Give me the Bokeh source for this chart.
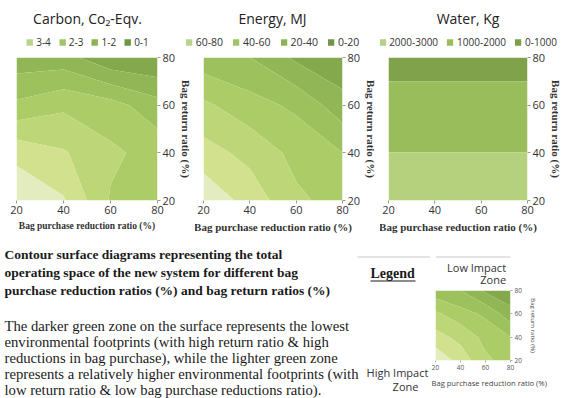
import numpy as np
from bokeh.plotting import figure
from bokeh.layouts import row, column
from bokeh.models import Range1d, Legend, LegendItem, FixedTicker
from bokeh.core.properties import value
from bokeh.embed import file_html
from bokeh.resources import INLINE

# ---------------- data ----------------
reduction_ratio = [20, 40, 60, 80]      # bag purchase reduction ratio (%) - x grid
return_ratio = [20, 40, 60, 80]         # bag return ratio (%) - y grid
tick_values = [20, 40, 60, 80]

# rows: return ratio 20, 40, 60, 80 ; columns: purchase reduction 20, 40, 60, 80
carbon = [
    [3.90, 3.55, 2.45, 2.30],
    [3.35, 3.05, 2.60, 2.30],
    [2.10, 2.40, 2.20, 1.70],
    [1.20, 1.20, 0.60, 0.50],
]
carbon_levels = [0, 0.5, 1, 1.5, 2, 2.5, 3, 3.5, 4]
carbon_legend_labels = ["3-4", "2-3", "1-2", "0-1"]

energy = [
    [78, 66, 52, 46],
    [64, 57, 47, 40],
    [52, 44, 38, 24],
    [34, 30, 18, 12],
]
energy_levels = [0, 10, 20, 30, 40, 50, 60, 70, 80]
energy_legend_labels = ["60-80", "40-60", "20-40", "0-20"]

water = [
    [2600, 2600, 2600, 2600],
    [2010, 2010, 2010, 2010],
    [1250, 1250, 1250, 1250],
    [750, 750, 750, 750],
]
water_levels = [0, 1000, 2000, 3000]
water_legend_labels = ["2000-3000", "1000-2000", "0-1000"]

x_title = "Bag purchase reduction ratio (%)"
y_title = "Bag return ratio (%)"

caption_bold = [
    "Contour surface diagrams representing the total",
    "operating space of the new system for different bag",
    "purchase reduction ratios (%) and bag return ratios (%)",
]
caption_text = [
    "The darker green zone on the surface represents the lowest",
    "environmental footprints (with high return ratio & high",
    "reductions in bag purchase), while the lighter green zone",
    "represents a relatively higher environmental footprints (with",
    "low return ratio & low bag purchase reductions ratio).",
]

# ---------------- styles ----------------
shade8 = ["#789c44", "#84a94c", "#90b655", "#9dc25d", "#abcc66", "#bdd677", "#d1e18d", "#e3ecbe"]
water3 = ["#7fa24a", "#98bd5a", "#b6d17d"]
swatch4 = ["#b9d48c", "#a0c468", "#8cb454", "#6f9644"]
swatch3 = ["#b6d18a", "#98bd5d", "#7c9e48"]

SANS = "Open Sans"
SERIF = "Liberation Serif"
HEAD_H = 50
CHART_H = 190


def canvas(width, height, x0, y0):
    """A plain figure whose frame is the whole canvas, in page-pixel coordinates."""
    c = figure(width=width, height=height, x_range=Range1d(x0, x0 + width),
               y_range=Range1d(y0 + height, y0), output_backend="svg",
               toolbar_location=None, x_axis_type=None, y_axis_type=None,
               min_border=0, outline_line_color=None, border_fill_color="white")
    c.grid.visible = False
    return c


def header(width, x0, title, labels, swatches, font_size, spacing):
    h = canvas(width, HEAD_H, x0, 0)
    h.text(x=[x0 + width / 2], y=[18], text=[title], text_font=value(SANS),
           text_font_size="14px", text_align="center", text_baseline="middle",
           text_color="#222222")
    items = []
    for lab, col in zip(labels, swatches):
        r = h.quad(left=[np.nan], right=[np.nan], top=[np.nan], bottom=[np.nan],
                   fill_color=col, line_color=None)
        items.append(LegendItem(label=lab, renderers=[r]))
    leg = Legend(items=items, orientation="horizontal", location="bottom_center",
                 glyph_width=8, glyph_height=8, label_standoff=3, spacing=spacing,
                 padding=0, margin=1, border_line_color=None, background_fill_alpha=0,
                 label_text_font=SANS, label_text_font_size=font_size,
                 label_text_color="#333333", label_height=12, label_width=0)
    h.add_layout(leg)
    return h


def chart(z, levels, palette, width, left, right, xlabel_size):
    p = figure(width=width, height=CHART_H, x_range=Range1d(20, 80),
               y_range=Range1d(20, 80), output_backend="svg", toolbar_location=None,
               y_axis_location="right", min_border_left=left, min_border_right=right,
               min_border_top=7, min_border_bottom=40, outline_line_color=None,
               border_fill_color="white")
    p.contour(reduction_ratio, return_ratio, np.array(z, dtype=float), levels,
              fill_color=palette, line_color=None)
    p.grid.visible = False
    p.xaxis.ticker = FixedTicker(ticks=tick_values)
    p.yaxis.ticker = FixedTicker(ticks=tick_values)
    p.xaxis.axis_label = x_title
    p.yaxis.axis_label = y_title
    for ax in (p.xaxis[0], p.yaxis[0]):
        ax.axis_line_color = None
        ax.major_tick_line_color = "#9a9a9a"
        ax.major_tick_out = 3
        ax.major_tick_in = 0
        ax.minor_tick_line_color = None
        ax.major_label_text_font = SANS
        ax.major_label_text_font_size = "11px"
        ax.major_label_text_color = "#333333"
        ax.axis_label_text_font = SERIF
        ax.axis_label_text_font_style = "bold"
        ax.axis_label_text_color = "#333333"
        ax.major_label_standoff = 2
    p.xaxis.axis_label_standoff = 4
    p.yaxis.axis_label_standoff = 2
    p.xaxis.axis_label_text_font_size = xlabel_size
    p.yaxis.axis_label_text_font_size = "11px"
    return p


h1 = header(174, 0, "Carbon, Co\u2082-Eqv.", carbon_legend_labels, swatch4, "10px", 7)
h2 = header(196, 174, "Energy, MJ", energy_legend_labels, swatch4, "10.5px", 9)
h3 = header(195, 370, "Water, Kg", water_legend_labels, swatch3, "10px", 8)

f1 = chart(carbon, carbon_levels, shade8, 195, 16, 37, "9.5px")
f2 = chart(energy, energy_levels, shade8, 185, 8, 35, "11px")
f3 = chart(water, water_levels, water3, 185, 8, 32, "11px")

# ---------------- bottom: captions ----------------
t = canvas(430, 158, 0, 240)
for i, line in enumerate(caption_bold):
    t.text(x=[4], y=[254 + 18 * i], text=[line], text_font=value(SERIF),
           text_font_style="bold", text_font_size="13.5px", text_baseline="middle",
           text_color="#1a1a1a")
for i, line in enumerate(caption_text):
    t.text(x=[4], y=[325 + 16 * i], text=[line], text_font=value(SERIF),
           text_font_size="14.7px", text_baseline="middle", text_color="#1a1a1a")
t.segment(x0=[357], y0=[256.5], x1=[430], y1=[256.5], line_color="#c8c8c8", line_width=1)
t.text(x=[370], y=[273], text=["Legend"], text_font=value(SERIF), text_font_style="bold",
       text_font_size="14px", text_baseline="middle", text_color="#1a1a1a")
t.segment(x0=[370], y0=[280.5], x1=[415], y1=[280.5], line_color="#1a1a1a", line_width=1)
t.text(x=[397], y=[372], text=["High Impact"], text_font=value(SANS), text_font_size="11px",
       text_align="center", text_baseline="middle", text_color="#333333")
t.text(x=[405], y=[386], text=["Zone"], text_font=value(SANS), text_font_size="11px",
       text_align="center", text_baseline="middle", text_color="#333333")

# ---------------- bottom right: legend chart ----------------
lh = canvas(135, 46, 430, 240)
lh.segment(x0=[430], y0=[256.5], x1=[565], y1=[256.5], line_color="#c8c8c8", line_width=1)
lh.text(x=[557], y=[267], text=["Low Impact"], text_font=value(SANS), text_font_size="11px",
        text_align="right", text_baseline="middle", text_color="#333333")
lh.text(x=[557], y=[279], text=["Zone"], text_font=value(SANS), text_font_size="11px",
        text_align="right", text_baseline="middle", text_color="#333333")

lc = figure(width=135, height=112, x_range=Range1d(20, 80), y_range=Range1d(20, 80),
            output_backend="svg", toolbar_location=None, y_axis_location="right",
            min_border_left=5, min_border_right=55, min_border_top=4, min_border_bottom=38,
            outline_line_color=None, border_fill_color="white",
            title=x_title, title_location="below")
lc.contour(reduction_ratio, return_ratio, np.array(energy, dtype=float), energy_levels,
           fill_color=shade8, line_color=None)
lc.grid.visible = False
lc.xaxis.ticker = FixedTicker(ticks=tick_values)
lc.yaxis.ticker = FixedTicker(ticks=tick_values)
lc.yaxis.axis_label = y_title
for ax in (lc.xaxis[0], lc.yaxis[0]):
    ax.axis_line_color = None
    ax.major_tick_line_color = "#aaaaaa"
    ax.major_tick_out = 2
    ax.major_tick_in = 0
    ax.minor_tick_line_color = None
    ax.major_label_text_font = SANS
    ax.major_label_text_font_size = "6.5px"
    ax.major_label_text_color = "#555555"
    ax.axis_label_text_font = SANS
    ax.axis_label_text_font_style = "normal"
    ax.axis_label_text_color = "#444444"
    ax.major_label_standoff = 2
lc.yaxis.axis_label_text_font_size = "6px"
lc.yaxis.axis_label_standoff = 4
# the small chart's x title sits under the frame, shifted to the right as in the original
lc.title.align = "left"
lc.title.offset = -4
lc.title.standoff = 6
lc.title.text_font = SANS
lc.title.text_font_size = "7.6px"
lc.title.text_font_style = "normal"
lc.title.text_color = "#444444"

top = column(row(h1, h2, h3, spacing=0), row(f1, f2, f3, spacing=0), spacing=0)
bottom = row(t, column(lh, lc, spacing=0), spacing=0)
page = column(top, bottom, spacing=0)
open("out.html", "w").write(file_html(page, INLINE))
